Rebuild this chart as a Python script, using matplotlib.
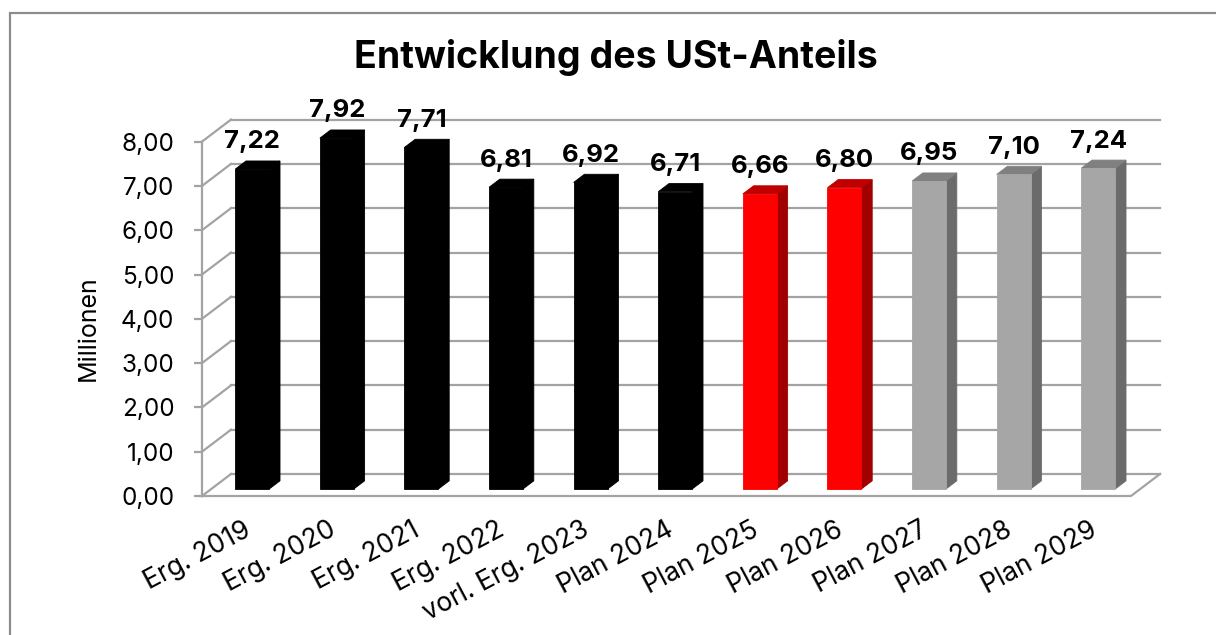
import matplotlib
matplotlib.use("Agg")
import matplotlib.pyplot as plt
from matplotlib.patches import Polygon, Rectangle

# data
categories = ["Erg. 2019", "Erg. 2020", "Erg. 2021", "Erg. 2022", "vorl. Erg. 2023",
              "Plan 2024", "Plan 2025", "Plan 2026", "Plan 2027", "Plan 2028", "Plan 2029"]
values = [7.22, 7.92, 7.71, 6.81, 6.92, 6.71, 6.66, 6.80, 6.95, 7.10, 7.24]
groups = ["ist"] * 6 + ["plan"] * 2 + ["ausblick"] * 3
yticks = [0, 1, 2, 3, 4, 5, 6, 7, 8]

# styles: front, side, top
styles = {
    "ist": ("#000000", "#000000", "#000000"),
    "plan": ("#ff0000", "#a00000", "#c00000"),
    "ausblick": ("#a6a6a6", "#6b6b6b", "#808080"),
}
grid_col = "#a3a3a3"

plt.rcParams["font.family"] = ["Inter", "DejaVu Sans"]

W, H = 1216, 635
fig = plt.figure(figsize=(W / 100, H / 100), dpi=100)

# geometry in pixels
px_x, px_y = 84.6, 44.3          # pixels per category / per unit
cat0 = 243                        # pixel x of first category on front plane
left_px, right_px, bot_px, top_px = 202, 1160, 496, 118
DX, DY = 29 / px_x, 22 / px_y     # depth of floor in data units
t0, t1 = 0.32, 0.69               # bar front/back depth fraction
bw = 34 / px_x

ax = fig.add_axes([left_px / W, 1 - bot_px / H,
                   (right_px - left_px) / W, (bot_px - top_px) / H])
x0 = (left_px - cat0) / px_x
x1 = (right_px - cat0) / px_x
ax.set_xlim(x0, x1)
ax.set_ylim(0, (bot_px - top_px) / px_y)

# back wall grid + side diagonals
for v in yticks:
    ax.plot([x0 + DX, x1], [v + DY, v + DY], color=grid_col, lw=1.6, zorder=1, clip_on=False)
    ax.plot([x0, x0 + DX], [v, v + DY], color=grid_col, lw=1.6, zorder=1, clip_on=False)
# floor front edge
ax.plot([x0, x1 - DX, x1], [0, 0, DY], color=grid_col, lw=1.6, zorder=1, clip_on=False)

# bars
xs = [i + t0 * DX for i in range(len(values))]
base = t0 * DY
ddx, ddy = (t1 - t0) * DX, (t1 - t0) * DY
for x, v, g in zip(xs, values, groups):
    xl, xr = x - bw / 2, x + bw / 2
    top = v + base
    side = Polygon([(xr, base), (xr + ddx, base + ddy), (xr + ddx, top + ddy), (xr, top)],
                   closed=True, facecolor=styles[g][1], edgecolor=styles[g][1], lw=0.6, zorder=3)
    lid = Polygon([(xl, top), (xl + ddx, top + ddy), (xr + ddx, top + ddy), (xr, top)],
                  closed=True, facecolor=styles[g][2], edgecolor=styles[g][2], lw=0.6, zorder=3)
    ax.add_patch(side)
    ax.add_patch(lid)
    ax.text(x, top + ddy + 0.17, f"{v:.2f}".replace(".", ","), ha="center", va="bottom",
            fontsize=18.5, fontweight="bold", color="black", zorder=5)
ax.bar(xs, values, width=bw, bottom=base, color=[styles[g][0] for g in groups],
       edgecolor=[styles[g][0] for g in groups], linewidth=0.6, zorder=4)

# axes
for s in ["top", "right", "bottom"]:
    ax.spines[s].set_visible(False)
ax.spines["left"].set_color(grid_col)
ax.spines["left"].set_linewidth(1.6)
ax.spines["left"].set_bounds(0, 8)
ax.set_yticks(yticks)
ax.set_yticklabels([f"{v:.2f}".replace(".", ",") for v in yticks])
ax.tick_params(axis="y", length=5.8, width=1.6, color=grid_col, pad=14, labelsize=17.5)
ax.set_xticks(range(len(categories)))
ax.set_xticklabels(categories, rotation=28, ha="right", rotation_mode="anchor")
ax.tick_params(axis="x", length=0, pad=15, labelsize=19)
ax.set_ylabel("Millionen", fontsize=18)
ax.yaxis.set_label_coords(-0.107, 0.444)
ax.set_facecolor("none")

fig.text(616 / W, 1 - 57 / H, "Entwicklung des USt-Anteils", ha="center", va="center",
         fontsize=27, fontweight="bold")

# outer frame
fig.patches.append(Rectangle((10 / W, -0.1), 1.1, 1.1 - 13 / H, transform=fig.transFigure,
                             fill=False, edgecolor="#8c8c8c", lw=1.6))

fig.savefig("out.png", dpi=100)
